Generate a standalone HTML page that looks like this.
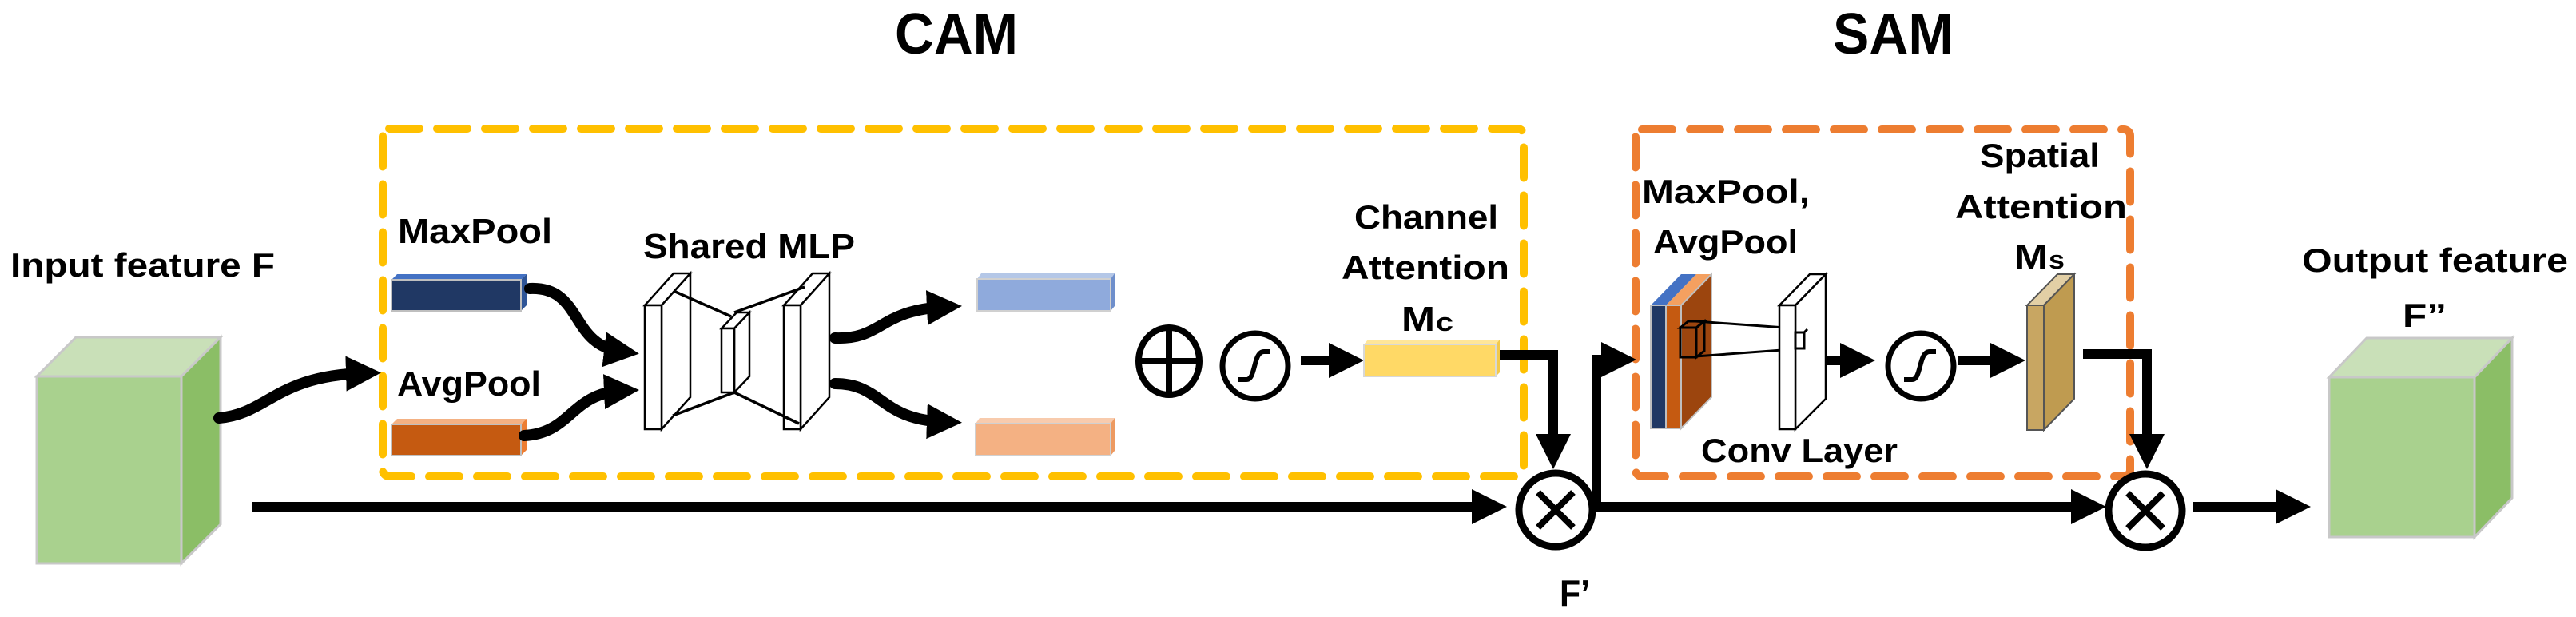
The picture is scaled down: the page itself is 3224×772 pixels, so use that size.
<!DOCTYPE html>
<html><head><meta charset="utf-8"><style>
html,body{margin:0;padding:0;background:#fff;}
svg{display:block;}
text{font-family:"Liberation Sans",sans-serif;font-weight:bold;fill:#000;}
</style></head><body>
<svg width="3224" height="772" viewBox="0 0 3224 772" xmlns="http://www.w3.org/2000/svg">
<defs>
<marker id="ah" markerUnits="userSpaceOnUse" markerWidth="50" markerHeight="50" refX="22" refY="22" orient="auto" viewBox="0 0 50 50">
<path d="M0,0 L44,22 L0,44 z" fill="#000"/>
</marker>
</defs>

<!-- titles -->
<text x="1120" y="67" font-size="72" textLength="154" lengthAdjust="spacingAndGlyphs">CAM</text>
<text x="2294" y="67" font-size="72" textLength="151" lengthAdjust="spacingAndGlyphs">SAM</text>

<!-- dashed boxes -->
<rect x="479" y="161" width="1428" height="435" rx="8" fill="none" stroke="#FFC000" stroke-width="10" stroke-dasharray="38 22" stroke-linecap="round"/>
<rect x="2047" y="162" width="619" height="434" rx="8" fill="none" stroke="#ED7D31" stroke-width="10" stroke-dasharray="38 22" stroke-linecap="round"/>

<!-- input cube -->
<polygon points="46,471 227,471 276,422 95,422" fill="#C9E0B8" stroke="#C8C8C8" stroke-width="3"/>
<polygon points="227,471 276,422 276,656 227,705" fill="#8BBE66" stroke="#C8C8C8" stroke-width="3"/>
<rect x="46" y="471" width="181" height="234" fill="#A9D18E" stroke="#C8C8C8" stroke-width="3"/>
<text x="13" y="346" font-size="42" textLength="331" lengthAdjust="spacingAndGlyphs">Input feature F</text>

<!-- output cube -->
<polygon points="2915,472 3097,472 3144,423 2962,423" fill="#C9E0B8" stroke="#C8C8C8" stroke-width="3"/>
<polygon points="3097,472 3144,423 3144,623 3097,672" fill="#8BBE66" stroke="#C8C8C8" stroke-width="3"/>
<rect x="2915" y="472" width="182" height="200" fill="#A9D18E" stroke="#C8C8C8" stroke-width="3"/>
<text x="2881" y="340" font-size="42" textLength="333" lengthAdjust="spacingAndGlyphs">Output feature</text>
<text x="3007" y="409" font-size="42" textLength="55" lengthAdjust="spacingAndGlyphs">F”</text>

<!-- MaxPool / AvgPool bars -->
<text x="498" y="304" font-size="44" textLength="193" lengthAdjust="spacingAndGlyphs">MaxPool</text>
<polygon points="490,350 652,350 659,343 497,343" fill="#4472C4"/>
<polygon points="652,350 659,343 659,382 652,389" fill="#2F5597"/>
<rect x="490" y="350" width="162" height="39" fill="#203864" stroke="#BFBFBF" stroke-width="2"/>
<text x="497" y="495" font-size="44" textLength="180" lengthAdjust="spacingAndGlyphs">AvgPool</text>
<polygon points="490,531 652,531 659,524 497,524" fill="#F4B183"/>
<polygon points="652,531 659,524 659,563 652,570" fill="#ED7D31"/>
<rect x="490" y="531" width="162" height="39" fill="#C55A11" stroke="#BFBFBF" stroke-width="2"/>

<!-- Shared MLP -->
<text x="805" y="323" font-size="44" textLength="265" lengthAdjust="spacingAndGlyphs">Shared MLP</text>
<g fill="#fff" stroke="#000" stroke-width="2.5">
<polygon points="807,382 828,382 864,342 843,342"/>
<polygon points="828,382 864,342 864,497 828,537"/>
<rect x="807" y="382" width="21" height="155"/>
<polygon points="903,411 919,411 938,391 922,391"/>
<polygon points="919,411 938,391 938,471 919,491"/>
<rect x="903" y="411" width="16" height="80"/>
<polygon points="981,382 1002,382 1038,342 1017,342"/>
<polygon points="1002,382 1038,342 1038,497 1002,537"/>
<rect x="981" y="382" width="21" height="155"/>
</g>
<g stroke="#000" stroke-width="3.5">
<line x1="843" y1="364" x2="915" y2="396"/>
<line x1="919" y1="391" x2="1007" y2="359"/>
<line x1="842" y1="520" x2="919" y2="491"/>
<line x1="919" y1="491" x2="1000" y2="530"/>
</g>

<!-- curved arrows -->
<g fill="none" stroke="#000" stroke-width="14" stroke-linecap="round" marker-end="url(#ah)">
<path d="M274,523 C335,518 345,470 455,467"/>
<path d="M663,361 C730,358 712,432 778,440"/>
<path d="M656,545 C715,542 715,492 778,489"/>
<path d="M1045,423 C1105,425 1100,388 1182,384"/>
<path d="M1045,480 C1105,480 1100,525 1182,528"/>
</g>

<!-- light bars -->
<polygon points="1223,349 1390,349 1395,342 1228,342" fill="#B4C7E7"/>
<polygon points="1390,349 1395,342 1395,383 1390,389" fill="#6F8FCB"/>
<rect x="1223" y="349" width="167" height="40" fill="#8FAADC" stroke="#D0D0D0" stroke-width="2"/>
<polygon points="1221,530 1390,530 1395,523 1226,523" fill="#F8CBAD"/>
<polygon points="1390,530 1395,523 1395,564 1390,570" fill="#ED9A61"/>
<rect x="1221" y="530" width="169" height="40" fill="#F4B183" stroke="#D0D0D0" stroke-width="2"/>

<!-- plus -->
<ellipse cx="1463" cy="452" rx="38" ry="42" fill="none" stroke="#000" stroke-width="8"/>
<line x1="1463" y1="410" x2="1463" y2="494" stroke="#000" stroke-width="8"/>
<line x1="1425" y1="452" x2="1501" y2="452" stroke="#000" stroke-width="8"/>

<!-- sigmoid 1 -->
<circle cx="1571" cy="458" r="41" fill="none" stroke="#000" stroke-width="7"/>
<path d="M1550,475 L1560,475 C1572,475 1568,440 1582,440 L1590,440" fill="none" stroke="#000" stroke-width="6"/>
<line x1="1628" y1="451" x2="1685" y2="451" stroke="#000" stroke-width="12" marker-end="url(#ah)"/>

<!-- Mc bar -->
<polygon points="1707,431 1872,431 1877,425 1712,425" fill="#FFE699"/>
<polygon points="1872,431 1877,425 1877,466 1872,471" fill="#F2C94C"/>
<rect x="1707" y="431" width="165" height="40" fill="#FFD966" stroke="#D8D8D8" stroke-width="2"/>
<text x="1695" y="286" font-size="42" textLength="180" lengthAdjust="spacingAndGlyphs">Channel</text>
<text x="1679" y="349" font-size="42" textLength="210" lengthAdjust="spacingAndGlyphs">Attention</text>
<text x="1754" y="414" font-size="44" textLength="42" lengthAdjust="spacingAndGlyphs">M</text>
<text x="1797" y="414" font-size="32" textLength="22" lengthAdjust="spacingAndGlyphs">c</text>

<!-- connectors CAM -->
<g fill="none" stroke="#000" stroke-width="12">
<path d="M316,634 L1864,634" marker-end="url(#ah)"/>
<path d="M1877,444 L1944,444 L1944,565" marker-end="url(#ah)"/>
<path d="M1997,634 L2614,634" marker-end="url(#ah)"/>
<path d="M1998,634 L1998,450 L2026,450" marker-end="url(#ah)"/>
<path d="M2745,634 L2870,634" marker-end="url(#ah)"/>
<path d="M2607,443 L2687,443 L2687,565" marker-end="url(#ah)"/>
<path d="M2275,451 L2325,451" marker-end="url(#ah)"/>
<path d="M2451,451 L2513,451" marker-end="url(#ah)"/>
</g>

<!-- otimes 1 -->
<circle cx="1947" cy="638" r="46" fill="#fff" stroke="#000" stroke-width="9"/>
<line x1="1925" y1="616" x2="1969" y2="660" stroke="#000" stroke-width="8"/>
<line x1="1969" y1="616" x2="1925" y2="660" stroke="#000" stroke-width="8"/>
<text x="1952" y="758" font-size="46" textLength="38" lengthAdjust="spacingAndGlyphs">F’</text>

<!-- otimes 2 -->
<circle cx="2685" cy="639" r="46" fill="#fff" stroke="#000" stroke-width="9"/>
<line x1="2663" y1="617" x2="2707" y2="661" stroke="#000" stroke-width="8"/>
<line x1="2707" y1="617" x2="2663" y2="661" stroke="#000" stroke-width="8"/>

<!-- SAM stacked feature -->
<text x="2055" y="254" font-size="42" textLength="210" lengthAdjust="spacingAndGlyphs">MaxPool,</text>
<text x="2069" y="317" font-size="42" textLength="181" lengthAdjust="spacingAndGlyphs">AvgPool</text>
<polygon points="2066,382 2085,382 2123,343 2104,343" fill="#4472C4"/>
<polygon points="2085,382 2104,382 2142,343 2123,343" fill="#F4A060"/>
<polygon points="2104,382 2142,343 2142,497 2104,536" fill="#9C450E" stroke="#BFBFBF" stroke-width="2"/>
<rect x="2066" y="382" width="19" height="154" fill="#203864" stroke="#BFBFBF" stroke-width="2"/>
<rect x="2085" y="382" width="19" height="154" fill="#C55A11" stroke="#BFBFBF" stroke-width="2"/>
<g fill="none" stroke="#000" stroke-width="3">
<rect x="2103" y="410" width="20" height="37"/>
<polygon points="2103,410 2113,402 2133,402 2123,410"/>
<polygon points="2123,410 2133,402 2133,439 2123,447"/>
<line x1="2122" y1="402" x2="2262" y2="412"/>
<line x1="2122" y1="446" x2="2258" y2="436"/>
</g>
<g fill="#fff" stroke="#000" stroke-width="2.5">
<polygon points="2227,382 2247,382 2285,343 2265,343"/>
<polygon points="2247,382 2285,343 2285,499 2247,537"/>
<rect x="2227" y="382" width="20" height="155"/>
</g>
<rect x="2247" y="416" width="11" height="20" fill="none" stroke="#000" stroke-width="3"/>
<line x1="2258" y1="416" x2="2262" y2="412" stroke="#000" stroke-width="3"/>
<text x="2129" y="578" font-size="42" textLength="246" lengthAdjust="spacingAndGlyphs">Conv Layer</text>

<!-- sigmoid 2 -->
<circle cx="2404" cy="458" r="41" fill="none" stroke="#000" stroke-width="7"/>
<path d="M2383,475 L2393,475 C2405,475 2401,440 2415,440 L2423,440" fill="none" stroke="#000" stroke-width="6"/>

<!-- Ms plate -->
<polygon points="2537,382 2558,382 2596,343 2575,343" fill="#E2CFA5" stroke="#555" stroke-width="2"/>
<polygon points="2558,382 2596,343 2596,499 2558,538" fill="#BF9B50" stroke="#555" stroke-width="2"/>
<rect x="2537" y="382" width="21" height="156" fill="#C8A662" stroke="#555" stroke-width="2"/>
<text x="2478" y="209" font-size="42" textLength="150" lengthAdjust="spacingAndGlyphs">Spatial</text>
<text x="2447" y="273" font-size="42" textLength="215" lengthAdjust="spacingAndGlyphs">Attention</text>
<text x="2521" y="336" font-size="44" textLength="42" lengthAdjust="spacingAndGlyphs">M</text>
<text x="2564" y="336" font-size="32" textLength="20" lengthAdjust="spacingAndGlyphs">s</text>
</svg>
</body></html>
